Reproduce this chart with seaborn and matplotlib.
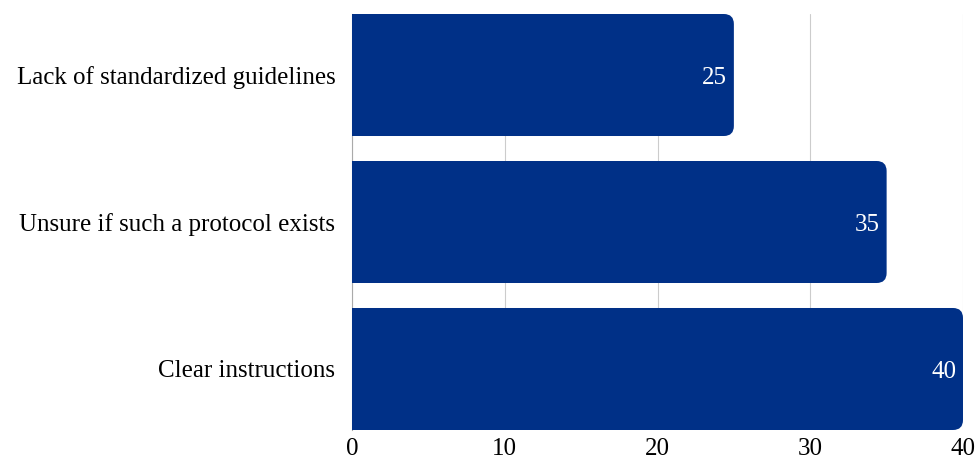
import matplotlib
matplotlib.use("Agg")
import matplotlib.pyplot as plt
from matplotlib.patches import FancyBboxPatch, Rectangle
import seaborn as sns
import pandas as pd

categories = [
    "Lack of standardized guidelines",
    "Unsure if such a protocol exists",
    "Clear instructions",
]
values = [25, 35, 40]
x_ticks = [0, 10, 20, 30, 40]

bar_color = "#003087"
grid_color = "#cccccc"

sns.set_theme(style="white")
plt.rcParams["font.family"] = ["Liberation Serif", "DejaVu Serif"]

df = pd.DataFrame({"category": categories, "value": values})

fig = plt.figure(figsize=(9.75, 4.61), dpi=100)
ax = fig.add_axes([352 / 975, 1 - 430 / 461, (963 - 352) / 975, (430 - 14) / 461])

bar_width = 0.83
sns.barplot(data=df, x="value", y="category", orient="h", color=bar_color,
            width=bar_width, saturation=1, ax=ax, zorder=3)

ax.set_xlim(0, 40)
ax.set_ylim(len(categories) - 1 + bar_width / 2, -bar_width / 2)

# rounded right ends: corner radius in pixels converted to data units
px_per_x = ax.get_window_extent().width / 40
px_per_y = ax.get_window_extent().height / (len(categories) - 1 + bar_width)
radius_px = 10
rx = radius_px / px_per_x
ry = radius_px / px_per_y

for patch, val in zip(list(ax.patches), values):
    x0, y0 = patch.get_x(), patch.get_y()
    w, h = patch.get_width(), patch.get_height()
    patch.set_visible(False)
    rounded = FancyBboxPatch((x0, y0), w, h,
                             boxstyle=f"round,pad=0,rounding_size={rx}",
                             mutation_aspect=ry / rx,
                             facecolor=bar_color, edgecolor="none", zorder=3)
    ax.add_patch(rounded)
    # square off the left corners
    ax.add_patch(Rectangle((x0, y0), w / 2, h, facecolor=bar_color,
                           edgecolor="none", zorder=3))
    ax.annotate(f"{val}", xy=(x0 + w, y0 + h / 2), xytext=(-5, -2),
                textcoords="offset points", ha="right", va="center",
                color="white", fontsize=18, zorder=4)

ax.set_xticks(x_ticks)
ax.set_xticklabels([str(t) for t in x_ticks])
ax.grid(axis="x", color=grid_color, linewidth=0.8, zorder=0)
ax.grid(axis="y", visible=False)
ax.set_xlabel("")
ax.set_ylabel("")

for side in ["top", "right", "bottom"]:
    ax.spines[side].set_visible(False)
ax.spines["left"].set_color("#aaaaaa")
ax.spines["left"].set_linewidth(0.8)
ax.spines["left"].set_zorder(2)

ax.tick_params(axis="x", length=0, pad=6, labelsize=18, colors="black")
ax.tick_params(axis="y", length=0, pad=12, labelsize=18, colors="black")

fig.savefig("out.png", dpi=100, facecolor="white")
